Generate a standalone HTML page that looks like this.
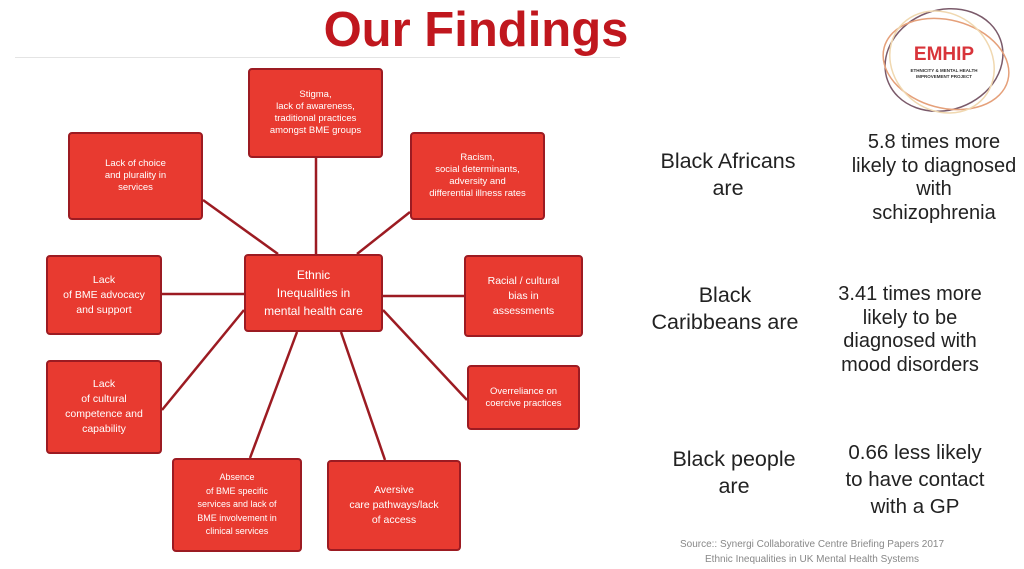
<!DOCTYPE html>
<html><head><meta charset="utf-8"><style>
body{margin:0;width:1024px;height:569px;background:#fff;position:relative;overflow:hidden;font-family:"Liberation Sans",sans-serif}
.b{position:absolute;background:#e83a30;border:2px solid #9c1b22;border-radius:4px;box-sizing:border-box;color:#fff;font-size:9.5px;line-height:12px;display:flex;align-items:center;justify-content:center;text-align:center}
.t{position:absolute;text-align:center;font-size:20px;line-height:24px;color:#222}
.l{font-size:21.5px;line-height:27px}
</style></head><body>
<div style="position:absolute;left:0;width:952px;top:2px;text-align:center;font-size:49px;font-weight:bold;color:#c0171e">Our Findings</div>
<div style="position:absolute;left:15px;top:57px;width:605px;height:1px;background:#e4e4e4"></div>
<svg style="position:absolute;left:0;top:0" width="1024" height="569">
<g stroke="#9c1b22" stroke-width="2.5">
<line x1="316" y1="158" x2="316" y2="254"/>
<line x1="203" y1="200" x2="278" y2="254"/>
<line x1="410" y1="212" x2="357" y2="254"/>
<line x1="162" y1="294" x2="244" y2="294"/>
<line x1="383" y1="296" x2="464" y2="296"/>
<line x1="162" y1="410" x2="244" y2="310"/>
<line x1="383" y1="310" x2="467" y2="400"/>
<line x1="250" y1="458" x2="297" y2="332"/>
<line x1="385" y1="460" x2="341" y2="332"/>
</g>
<g fill="none" stroke-width="1.5">
<ellipse cx="944" cy="60" rx="60" ry="50" stroke="#7a5a6a" transform="rotate(-20 944 60)"/>
<ellipse cx="946" cy="64" rx="64" ry="44" stroke="#e5a07a" transform="rotate(15 946 64)"/>
<ellipse cx="942" cy="62" rx="55" ry="48" stroke="#f0d8b0" transform="rotate(40 942 62)"/>
</g>
</svg>
<div style="position:absolute;left:896px;top:44px;width:96px;text-align:center;color:#d8343a;font-weight:bold;font-size:19px">EMHIP</div>
<div style="position:absolute;left:896px;top:68px;width:96px;text-align:center;color:#333;font-size:4.5px;line-height:6px;font-weight:bold">ETHNICITY &amp; MENTAL HEALTH<br>IMPROVEMENT PROJECT</div>
<div class="b" style="left:248px;top:68px;width:135px;height:90px">Stigma,<br>lack of awareness,<br>traditional practices<br>amongst BME groups</div>
<div class="b" style="left:68px;top:132px;width:135px;height:88px">Lack of choice<br>and plurality in<br>services</div>
<div class="b" style="left:410px;top:132px;width:135px;height:88px">Racism,<br>social determinants,<br>adversity and<br>differential illness rates</div>
<div class="b" style="left:244px;top:254px;width:139px;height:78px;font-size:12px;line-height:18px">Ethnic<br>Inequalities in<br>mental health care</div>
<div class="b" style="left:46px;top:255px;width:116px;height:80px;font-size:10.5px;line-height:15px">Lack<br>of BME advocacy<br>and support</div>
<div class="b" style="left:464px;top:255px;width:119px;height:82px;font-size:10.5px;line-height:15px">Racial / cultural<br>bias in<br>assessments</div>
<div class="b" style="left:46px;top:360px;width:116px;height:94px;font-size:10.5px;line-height:15px">Lack<br>of cultural<br>competence and<br>capability</div>
<div class="b" style="left:467px;top:365px;width:113px;height:65px">Overreliance on<br>coercive practices</div>
<div class="b" style="left:172px;top:458px;width:130px;height:94px;font-size:9px;line-height:13.5px">Absence<br>of BME specific<br>services and lack of<br>BME involvement in<br>clinical services</div>
<div class="b" style="left:327px;top:460px;width:134px;height:91px;font-size:10.5px;line-height:15px">Aversive<br>care pathways/lack<br>of access</div>
<div class="t l" style="left:628px;top:148px;width:200px">Black Africans<br>are</div>
<div class="t" style="left:834px;top:131px;width:200px;line-height:23.5px">5.8 times more<br>likely to diagnosed<br>with<br>schizophrenia</div>
<div class="t l" style="left:625px;top:282px;width:200px">Black<br>Caribbeans are</div>
<div class="t" style="left:810px;top:283px;width:200px;line-height:23.5px">3.41 times more<br>likely to be<br>diagnosed with<br>mood disorders</div>
<div class="t l" style="left:634px;top:446px;width:200px">Black people<br>are</div>
<div class="t" style="left:820px;top:439px;width:190px;line-height:27px;font-size:20.5px">0.66 less likely<br>to have contact<br>with a GP</div>
<div style="position:absolute;left:600px;top:537px;width:424px;text-align:center;font-size:10px;line-height:15px;color:#888">Source:: Synergi Collaborative Centre Briefing Papers 2017<br>Ethnic Inequalities in UK Mental Health Systems</div>
</body></html>
